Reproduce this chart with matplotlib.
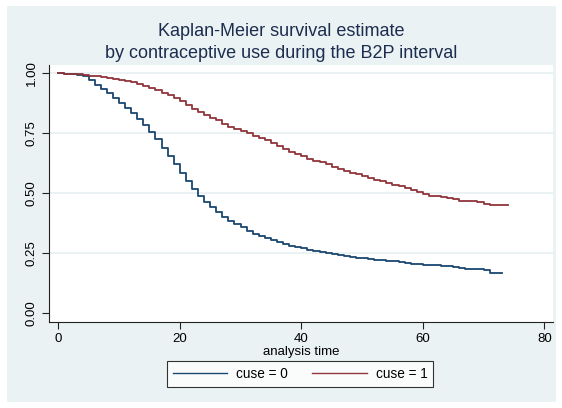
import matplotlib
matplotlib.use("Agg")
import matplotlib.pyplot as plt
from matplotlib.patches import Rectangle

plt.rcParams['font.family'] = ['Liberation Sans', 'DejaVu Sans']

title_lines = ["Kaplan-Meier survival estimate", "by contraceptive use during the B2P interval"]
xlabel = "analysis time"
series_labels = ["cuse = 0", "cuse = 1"]
x_ticks = [0, 20, 40, 60, 80]
y_ticks = [0.00, 0.25, 0.50, 0.75, 1.00]
y_ticklabels = ["0.00", "0.25", "0.50", "0.75", "1.00"]

time_cuse0 = list(range(0, 74))
surv_cuse0 = [1.0, 0.999, 0.998, 0.995, 0.9875, 0.971, 0.953, 0.933, 0.917, 0.899,
              0.878, 0.855, 0.835, 0.811, 0.786, 0.755, 0.725, 0.689, 0.655, 0.621,
              0.586, 0.55, 0.517, 0.489, 0.464, 0.443, 0.42, 0.401, 0.383, 0.371,
              0.357, 0.343, 0.329, 0.321, 0.311, 0.304, 0.296, 0.289, 0.281, 0.275,
              0.27, 0.2625, 0.258, 0.253, 0.249, 0.246, 0.243, 0.2375, 0.233, 0.23,
              0.228, 0.225, 0.222, 0.2195, 0.217, 0.215, 0.212, 0.208, 0.2055, 0.204,
              0.201, 0.200, 0.199, 0.198, 0.197, 0.193, 0.1875, 0.185, 0.184, 0.183,
              0.179, 0.168, 0.168, 0.168]

time_cuse1 = list(range(0, 75))
surv_cuse1 = [1.0, 0.999, 0.998, 0.996, 0.993, 0.990, 0.988, 0.985, 0.982, 0.978,
              0.974, 0.969, 0.963, 0.957, 0.949, 0.940, 0.931, 0.919, 0.908, 0.896,
              0.886, 0.866, 0.852, 0.840, 0.826, 0.813, 0.804, 0.790, 0.778, 0.769,
              0.760, 0.749, 0.738, 0.730, 0.721, 0.711, 0.697, 0.684, 0.672, 0.664,
              0.654, 0.643, 0.633, 0.629, 0.621, 0.610, 0.600, 0.592, 0.585, 0.578,
              0.571, 0.564, 0.556, 0.549, 0.542, 0.535, 0.528, 0.522, 0.5125, 0.506,
              0.497, 0.489, 0.487, 0.485, 0.478, 0.474, 0.468, 0.467, 0.466, 0.461,
              0.453, 0.449, 0.449, 0.449, 0.449]

W, H = 562, 408
bg = "#EAF2F3"
fig = plt.figure(figsize=(W / 100, H / 100), dpi=100, facecolor="white")
fig.add_artist(Rectangle((7 / W, 6 / H), (W - 13) / W, (H - 12) / H,
                         transform=fig.transFigure, facecolor=bg, edgecolor="none", zorder=-10))
ax = fig.add_axes([49 / W, 1 - 322 / H, (553 - 49) / W, (322 - 65) / H])
ax.set_facecolor("white")

blue = "#1A476F"
red = "#90353B"
l0, = ax.step(time_cuse0, surv_cuse0, where="post", color=blue, lw=1.3, label=series_labels[0])
l1, = ax.step(time_cuse1, surv_cuse1, where="post", color=red, lw=1.3, label=series_labels[1])

ax.set_xlim(-1.53, 81.43)
ax.set_ylim(-0.0376, 1.0347)
ax.set_xticks(x_ticks)
ax.set_yticks(y_ticks)
ax.set_yticklabels(y_ticklabels, rotation=90, va="center")
for y in y_ticks[1:]:
    ax.axhline(y, color=bg, lw=1.4, zorder=0)

for s in ["top", "right"]:
    ax.spines[s].set_visible(False)
for s in ["left", "bottom"]:
    ax.spines[s].set_color("#222222")
    ax.spines[s].set_linewidth(0.8)
ax.tick_params(axis="both", direction="out", length=5, width=0.8, color="#222222",
               labelsize=9.5, labelcolor="black")
ax.tick_params(axis="y", pad=3)
ax.tick_params(axis="x", pad=3)

ax.set_xlabel(xlabel, fontsize=9.5, labelpad=1)

fig.text(281 / W, 1 - 31 / H, title_lines[0], ha="center", va="center", fontsize=13, color="#1c2d4f")
fig.text(281 / W, 1 - 53 / H, title_lines[1], ha="center", va="center", fontsize=13, color="#1c2d4f")

leg = fig.legend(handles=[l0, l1], loc="center", bbox_to_anchor=(300 / W, 1 - 374 / H),
                 ncol=2, fontsize=9.8, frameon=True, fancybox=False, edgecolor="black",
                 facecolor="white", handlelength=4.0, handletextpad=0.65, columnspacing=1.8,
                 borderpad=0.45)
leg.get_frame().set_linewidth(0.8)
for h in leg.get_lines():
    h.set_linewidth(1.0)

fig.savefig("out.png", dpi=100, facecolor="white")
